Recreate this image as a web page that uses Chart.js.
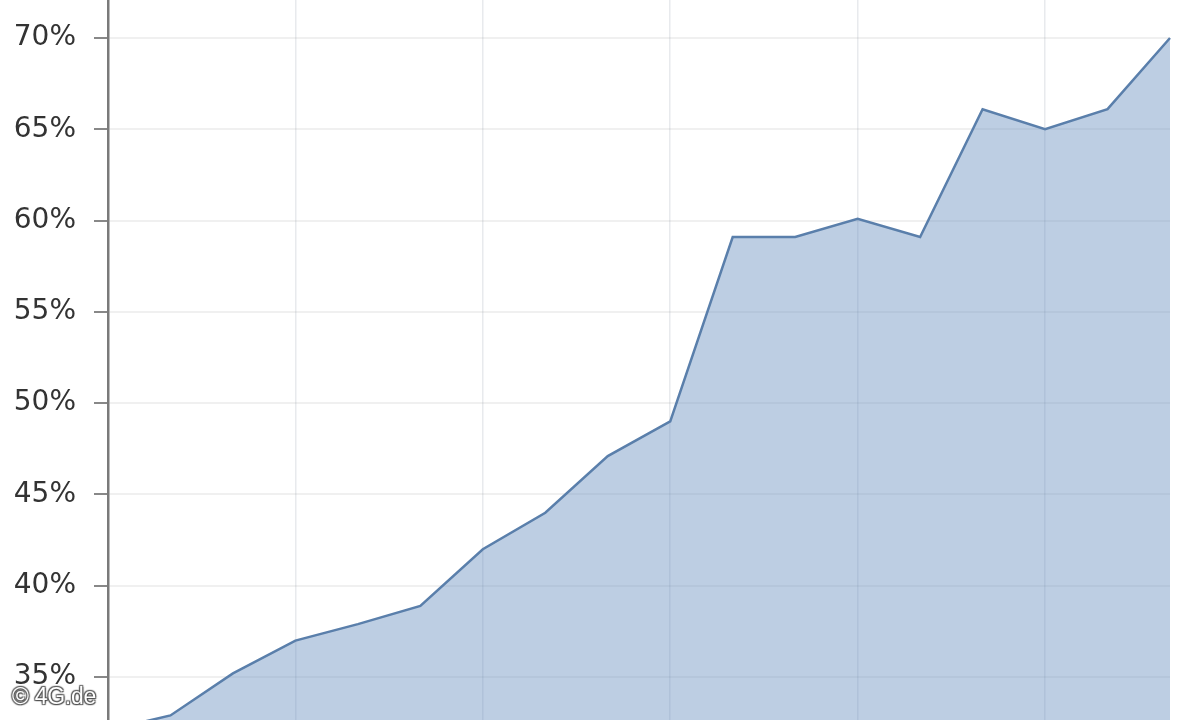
<!DOCTYPE html>
<html>
<head>
<meta charset="utf-8">
<script src="https://cdn.jsdelivr.net/npm/chart.js@4"></script>
<style>
html, body { margin: 0; padding: 0; background: #fff; }
#wrap { position: relative; width: 1200px; height: 720px; }
#mark {
	position: absolute; left: 12px; top: 683px;
	font: 23px "Liberation Sans", Arial, sans-serif; color: #fff;
	letter-spacing: -0.3px;
	text-shadow: 0 0 2px #444, 1px 1px 1px #555, -1px -1px 1px #666, 1px -1px 1px #666, -1px 1px 1px #666;
}
</style>
</head>
<body>
<div id="wrap">
	<canvas id="myChart" width="1200" height="720"></canvas>
	<div id="mark">© 4G.de</div>
</div>
<script>
// x categories are not shown in the picture, only positions
const labels = ['1','2','3','4','5','6','7','8','9','10','11','12','13','14','15','16','17','18']
const values = [32.1, 32.9, 35.2, 37.0, 37.9, 38.9, 42.0, 44.0, 47.1, 49.0, 59.1, 59.1, 60.1, 59.1, 66.1, 65.0, 66.1, 70.0]
const yTicks = [35, 40, 45, 50, 55, 60, 65, 70]

const context = document.getElementById('myChart')
const config = {
	type: 'line',
	data: {
		labels: labels,
		datasets: [{
			data: values,
			borderColor: '#5a7fab',
			borderWidth: 2.5,
			backgroundColor: 'rgba(98,138,188,0.42)',
			fill: 'start',
			pointRadius: 0,
			tension: 0
		}]
	},
	options: {
		responsive: false,
		animation: false,
		layout: { padding: { top: 0, bottom: 0, left: 0, right: 30 } },
		plugins: { legend: { display: false }, tooltip: { enabled: false } },
		scales: {
			x: {
				offset: false,
				ticks: { display: false },
				border: { display: false },
				grid: {
					drawTicks: false,
					lineWidth: 1.5,
					color: ctx => (ctx.index % 3 === 0 && ctx.index > 0) ? 'rgba(150,160,175,0.22)' : 'rgba(0,0,0,0)'
				},
				afterFit: s => { s.height = 0; s.paddingLeft = 0; s.paddingRight = 0 }
			},
			y: {
				min: 32.65,
				max: 72.08,
				afterBuildTicks: s => { s.ticks = yTicks.map(v => ({ value: v })) },
				afterFit: s => { s.width = 108; s.paddingTop = 0; s.paddingBottom = 0 },
				ticks: {
					color: '#333',
					padding: 18,
					font: { family: 'DejaVu Sans', size: 28 },
					callback: v => v + '%'
				},
				border: { display: true, color: '#7a7a7a', width: 2.5 },
				grid: {
					color: 'rgba(150,150,150,0.14)',
					lineWidth: 2,
					tickColor: '#888',
					tickLength: 14
				}
			}
		}
	}
}
const myChart = new Chart(context, config)
</script>
</body>
</html>
